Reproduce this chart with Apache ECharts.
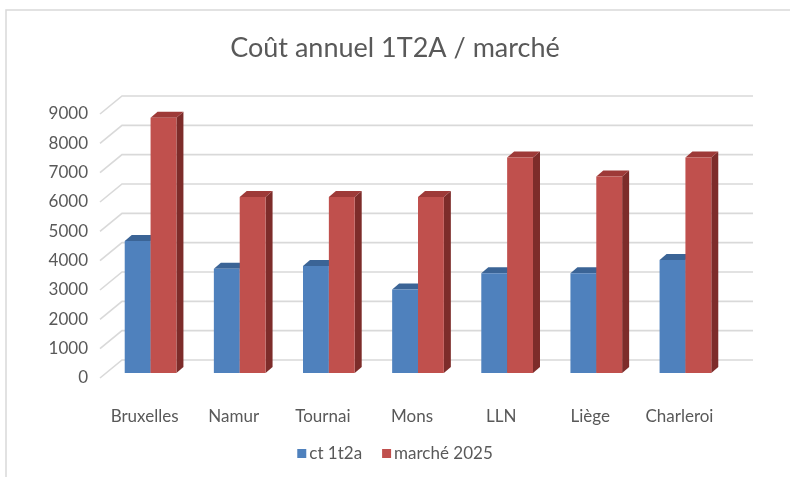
<!DOCTYPE html>
<html>
<head>
<meta charset="utf-8">
<script src="https://cdn.jsdelivr.net/npm/echarts@6/dist/echarts.min.js"></script>
<style>
  html, body { margin: 0; padding: 0; background: #fff; }
  #chart { width: 790px; height: 477px; }
</style>
</head>
<body>
<div id="chart"></div>
<script>
// données
const villes = ["Bruxelles", "Namur", "Tournai", "Mons", "LLN", "Liège", "Charleroi"];
const ct1t2a = [4500, 3550, 3650, 2850, 3400, 3400, 3850];
const marche2025 = [8700, 6000, 6000, 6000, 7350, 6700, 7350];
const ticks = [0, 1000, 2000, 3000, 4000, 5000, 6000, 7000, 8000, 9000];

// perspective façon Excel 3D
const wallDx = 22, wallDy = -18;   // profondeur jusqu'au mur du fond
const frontDx = 6, frontDy = -5;   // face avant des barres
const depthDx = 7, depthDy = -6;   // épaisseur des barres
const barFrac = 0.29;              // largeur d'une barre / largeur catégorie

let myChart = echarts.init(document.getElementById("chart"));

// barre 3D : face avant, dessus, côté
function bar3d(index, colors) {
  return function (params, api) {
    const cat = api.value(0);
    const val = api.value(1);
    const base = api.coord([cat, 0]);
    const top = api.coord([cat, val]);
    const w = api.size([1, 0])[0] * barFrac;
    const x0 = base[0] + frontDx + (index === 0 ? -w : 0);
    const x1 = x0 + w;
    const yb = base[1] + frontDy;
    const yt = top[1] + frontDy;
    return {
      type: "group",
      children: [
        {
          type: "polygon",
          shape: { points: [[x1, yb], [x1 + depthDx, yb + depthDy], [x1 + depthDx, yt + depthDy], [x1, yt]] },
          style: { fill: colors.side },
        },
        {
          type: "polygon",
          shape: { points: [[x0, yt], [x0 + depthDx, yt + depthDy], [x1 + depthDx, yt + depthDy], [x1, yt]] },
          style: { fill: colors.top },
        },
        {
          type: "rect",
          shape: { x: x0, y: yt, width: w, height: yb - yt },
          style: { fill: colors.front },
        },
      ],
    };
  };
}

myChart.setOption({
  animation: false,
  backgroundColor: "#fff",
  graphic: [
    {
      type: "rect",
      shape: { x: 6, y: 10, width: 800, height: 480 },
      style: { fill: "none", stroke: "#d9d9d9", lineWidth: 1.5 },
      silent: true,
    },
  ],
  title: {
    text: "Coût annuel 1T2A / marché",
    left: "center",
    top: 30,
    textStyle: {
      fontFamily: "Lato",
      fontSize: 27,
      fontWeight: "normal",
      color: "#595959",
    },
  },
  legend: {
    bottom: 10,
    left: "center",
    icon: "rect",
    itemWidth: 9,
    itemHeight: 9,
    itemGap: 20,
    data: ["ct 1t2a", "marché 2025"],
    textStyle: { fontFamily: "Lato", fontSize: 17, color: "#595959", padding: [0, 0, 0, -2] },
  },
  grid: {
    left: 100,
    right: 66,
    top: 114,
    bottom: 99,
  },
  xAxis: {
    type: "category",
    data: villes,
    axisLine: { show: false },
    axisTick: { show: false },
    axisLabel: {
      margin: 30,
      fontFamily: "Lato",
      fontSize: 17,
      color: "#595959",
    },
  },
  yAxis: {
    type: "value",
    min: 0,
    max: 9000,
    interval: 1000,
    axisLine: { show: false },
    axisTick: { show: false },
    splitLine: { show: false },
    axisLabel: {
      margin: 12,
      fontFamily: "Lato",
      fontSize: 17,
      color: "#595959",
      formatter: (v) => String(v),
    },
  },
  series: [
    {
      // quadrillage du mur du fond
      type: "custom",
      silent: true,
      data: ticks.map((t) => [0, t]),
      renderItem: function (params, api) {
        const p = api.coord([0, api.value(1)]);
        const cs = params.coordSys;
        const xl = cs.x;
        const xr = cs.x + cs.width + wallDx + 7;
        return {
          type: "polyline",
          shape: { points: [[xl, p[1]], [xl + wallDx, p[1] + wallDy], [xr, p[1] + wallDy]] },
          style: { stroke: "#d9d9d9", lineWidth: 1.6, fill: "none" },
        };
      },
      z: 1,
    },
    {
      name: "ct 1t2a",
      type: "custom",
      itemStyle: { color: "#4f81bd" },
      data: ct1t2a.map((v, i) => [i, v]),
      renderItem: bar3d(0, { front: "#4f81bd", top: "#3b6496", side: "#30527c" }),
      z: 2,
    },
    {
      name: "marché 2025",
      type: "custom",
      itemStyle: { color: "#c0504d" },
      data: marche2025.map((v, i) => [i, v]),
      renderItem: bar3d(1, { front: "#c0504d", top: "#9e3a38", side: "#7d2c2a" }),
      z: 3,
    },
  ],
});

window.addEventListener("resize", () => {
  myChart.resize();
});
</script>
</body>
</html>
